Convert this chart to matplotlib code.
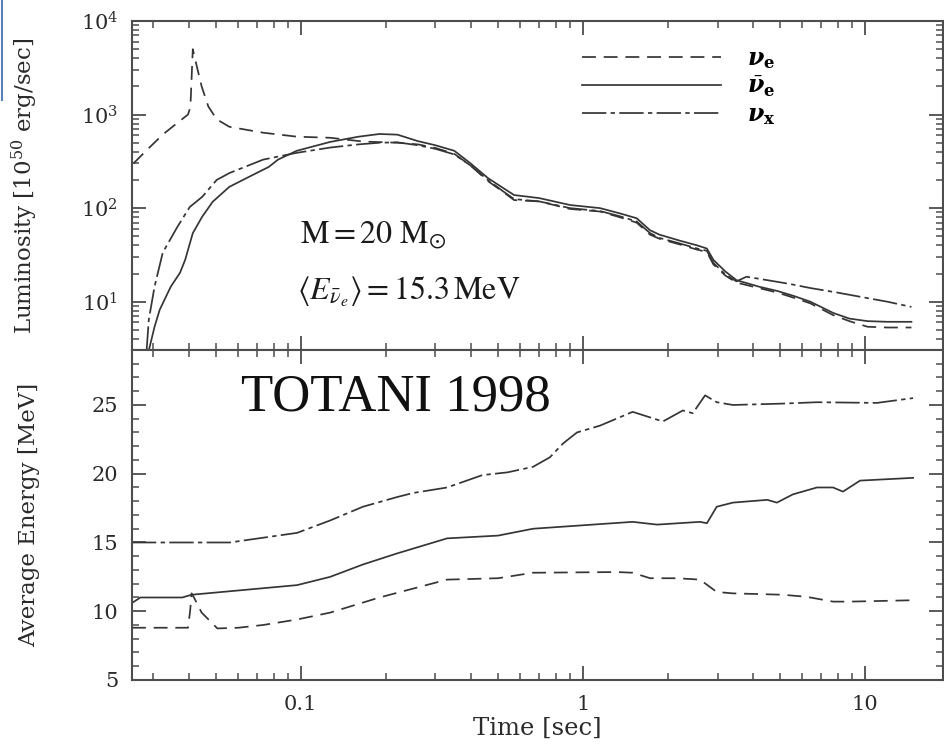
import matplotlib
matplotlib.use("Agg")
import matplotlib.pyplot as plt
from matplotlib.lines import Line2D
from matplotlib.ticker import FixedLocator, LogLocator, MultipleLocator, NullFormatter

plt.rcParams['font.family'] = 'DejaVu Serif'
plt.rcParams['mathtext.fontset'] = 'dejavuserif'

# ---------------- luminosity (10^50 erg/s) ----------------
t_lum_nue = [0.0255, 0.0285, 0.0324, 0.0365, 0.0398, 0.0406, 0.0414, 0.0428, 0.0445, 0.047,
             0.0503, 0.0558, 0.0735, 0.097, 0.127, 0.166, 0.22, 0.26, 0.30, 0.35, 0.40, 0.46,
             0.52, 0.57, 0.70, 0.90, 1.15, 1.35, 1.55, 1.73, 1.87, 2.2, 2.54, 2.75, 2.9, 3.2,
             3.5, 4.2, 4.9, 5.6, 6.4, 7.7, 8.8, 10.2, 12.0, 14.6]
lum_nue = [300, 420, 611, 815, 1000, 1200, 5000, 3260, 2000, 1220,
           890, 740, 640, 580, 565, 515, 500, 480, 440, 380, 285, 195,
           150, 122, 118, 98, 92, 80, 70, 52, 47, 41, 36, 34, 25, 19,
           16, 14, 12.5, 11, 9.6, 7.2, 6.2, 5.4, 5.3, 5.3]

t_lum_nuebar = [0.0289, 0.0303, 0.0316, 0.0346, 0.0373, 0.0389, 0.0414, 0.0447, 0.0487, 0.0558,
                0.0655, 0.077, 0.083, 0.0967, 0.127, 0.16, 0.19, 0.22, 0.26, 0.30, 0.35,
                0.40, 0.46, 0.52, 0.57, 0.70, 0.90, 1.15, 1.35, 1.55, 1.73, 1.87, 2.2, 2.54,
                2.75, 2.9, 3.2, 3.5, 4.2, 4.9, 5.6, 6.4, 7.7, 8.8, 10.2, 12.0, 14.6]
lum_nuebar = [3.0, 5.4, 8.2, 14.5, 20.4, 28, 54, 81, 117, 169,
              216, 276, 330, 410, 510, 580, 620, 610, 520, 470, 410,
              300, 210, 165, 138, 128, 108, 100, 88, 78, 58, 52, 45, 40,
              37, 28, 21, 17, 14.5, 13, 11.5, 10, 7.6, 6.6, 6.2, 6.1, 6.1]

t_lum_nux = [0.0284, 0.0289, 0.0303, 0.0324, 0.0365, 0.0404, 0.0447, 0.0503, 0.0558, 0.0735,
             0.0967, 0.127, 0.16, 0.19, 0.22, 0.26, 0.30, 0.35, 0.40, 0.46, 0.52, 0.57,
             0.70, 0.90, 1.15, 1.35, 1.55, 1.73, 1.87, 2.2, 2.54, 2.75, 2.9, 3.2, 3.5, 3.8,
             4.5, 5.4, 6.4, 8.0, 9.6, 12.0, 14.6]
lum_nux = [3.0, 6.4, 14.5, 33.5, 63, 103, 132, 200, 237, 330,
           390, 444, 480, 500, 505, 470, 430, 375, 285, 200, 152, 125,
           118, 100, 93, 82, 72, 54, 48, 42, 37, 35, 26, 19.5, 16.5, 18.5,
           17, 15.5, 14, 12.5, 11.3, 10, 8.8]

# ---------------- average energy (MeV) ----------------
t_en_nue = [0.0252, 0.0398, 0.0405, 0.041, 0.0418, 0.0445, 0.0506, 0.06, 0.0735, 0.097,
            0.127, 0.19, 0.33, 0.5, 0.665, 1.32, 1.5, 1.73, 2.15, 2.6, 2.98, 3.4, 5.1,
            6.2, 7.7, 8.84, 14.8]
en_nue = [8.8, 8.8, 10.0, 11.3, 11.0, 9.9, 8.75, 8.8, 9.0, 9.4,
          9.9, 11.0, 12.3, 12.4, 12.8, 12.85, 12.8, 12.4, 12.4, 12.3, 11.4, 11.3, 11.2,
          11.05, 10.7, 10.7, 10.8]

t_en_nuebar = [0.0252, 0.027, 0.038, 0.041, 0.097, 0.127, 0.166, 0.219, 0.33, 0.5,
               0.665, 1.5, 1.83, 2.6, 2.75, 2.98, 3.4, 4.5, 4.87, 5.55, 6.75, 7.7, 8.35,
               9.6, 14.8]
en_nuebar = [10.6, 11.0, 11.0, 11.2, 11.9, 12.5, 13.4, 14.2, 15.3, 15.5,
             16.0, 16.5, 16.3, 16.5, 16.4, 17.6, 17.9, 18.1, 17.9, 18.5, 19.0, 19.0, 18.7,
             19.5, 19.7]

t_en_nux = [0.0252, 0.056, 0.097, 0.127, 0.166, 0.219, 0.25, 0.33, 0.44, 0.54,
            0.665, 0.764, 0.85, 0.952, 1.15, 1.5, 1.92, 2.26, 2.45, 2.71, 2.98, 3.4, 5.1,
            6.75, 11.0, 14.8]
en_nux = [15.0, 15.0, 15.7, 16.6, 17.6, 18.3, 18.6, 19.0, 19.9, 20.1,
          20.5, 21.2, 22.2, 23.0, 23.5, 24.5, 23.8, 24.6, 24.4, 25.7, 25.2, 25.0, 25.1,
          25.2, 25.15, 25.5]

x_ticks = [0.1, 1, 10]
x_ticklabels = ['0.1', '1', '10']
lum_ticks = [10, 100, 1000, 10000]
lum_ticklabels = ['$10^1$', '$10^2$', '$10^3$', '$10^4$']
en_ticks = [5, 10, 15, 20, 25]

LINE = '#353535'
FRAME = '#4d4d4d'
TEXT = '#2a2a2a'
LW = 1.25
DASH = (0, (8, 4.5))
DASHDOT = (0, (14, 2.5, 2.5, 2.5))

fig = plt.figure(figsize=(9.44, 7.47), dpi=100)
ax_l = fig.add_axes([0.1398, 0.5315, 0.8592, 0.4404])
ax_e = fig.add_axes([0.1398, 0.0897, 0.8592, 0.4418], sharex=ax_l)

ax_l.plot(t_lum_nue, lum_nue, color=LINE, lw=LW, ls=DASH,
          label=r'$\boldsymbol{\nu}_{\mathbf{e}}$')
ax_l.plot(t_lum_nuebar, lum_nuebar, color=LINE, lw=LW, ls='-',
          label=r'$\bar{\boldsymbol{\nu}}_{\mathbf{e}}$')
ax_l.plot(t_lum_nux, lum_nux, color=LINE, lw=LW, ls=DASHDOT,
          label=r'$\boldsymbol{\nu}_{\mathbf{x}}$')

ax_e.plot(t_en_nue, en_nue, color=LINE, lw=LW, ls=DASH)
ax_e.plot(t_en_nuebar, en_nuebar, color=LINE, lw=LW, ls='-')
ax_e.plot(t_en_nux, en_nux, color=LINE, lw=LW, ls=DASHDOT)

ax_l.set_xscale('log')
ax_l.set_yscale('log')
ax_l.set_xlim(0.0252, 18.9)
ax_l.set_ylim(3.05, 10000)
ax_e.set_ylim(5, 29)

for ax in (ax_l, ax_e):
    for s in ax.spines.values():
        s.set_color(FRAME)
        s.set_linewidth(1.5)
    ax.tick_params(which='both', direction='in', top=True, right=True,
                   color=FRAME, labelcolor=TEXT, labelsize=15)
    ax.tick_params(which='major', length=10, width=1.3)
    ax.tick_params(which='minor', length=5, width=1.1)
    ax.tick_params(axis='y', pad=10)
    ax.tick_params(axis='x', pad=11)

ax_e.xaxis.set_major_locator(FixedLocator(x_ticks))
ax_e.set_xticklabels(x_ticklabels)
ax_e.xaxis.set_minor_locator(LogLocator(base=10, subs=range(2, 10)))
ax_e.xaxis.set_minor_formatter(NullFormatter())
ax_l.tick_params(axis='x', labelbottom=False)

ax_l.set_yticks(lum_ticks)
ax_l.set_yticklabels(lum_ticklabels)
ax_l.yaxis.set_minor_locator(LogLocator(base=10, subs=range(2, 10)))
ax_l.yaxis.set_minor_formatter(NullFormatter())

ax_e.set_yticks(en_ticks)
ax_e.yaxis.set_minor_locator(MultipleLocator(1))

ax_l.set_ylabel('Luminosity [10$^{50}$ erg/sec]', fontsize=16.5, color=TEXT)
ax_e.set_ylabel('Average Energy [MeV]', fontsize=16.5, color=TEXT)
ax_l.yaxis.set_label_coords(-0.113, 0.5)
ax_e.yaxis.set_label_coords(-0.113, 0.5)
ax_e.set_xlabel('Time [sec]', fontsize=17.5, color=TEXT, labelpad=2)

ax_l.legend(loc='upper left', bbox_to_anchor=(582 / 944, 1 - 47 / 747),
            bbox_transform=fig.transFigure, frameon=False, fontsize=17,
            handlelength=5.9, handletextpad=1.1, labelspacing=0.15,
            borderpad=0, borderaxespad=0)

ax_l.text(0.207, 0.325, r'$\mathrm{M} = 20\ \mathrm{M}_{\odot}$', transform=ax_l.transAxes,
          fontsize=23, math_fontfamily='stix', va='baseline', ha='left', color='#1a1a1a')
ax_l.text(0.203, 0.152, r'$\left\langle E_{\bar{\nu}_e} \right\rangle = 15.3\,\mathrm{MeV}$',
          transform=ax_l.transAxes, fontsize=23, math_fontfamily='stix',
          va='baseline', ha='left', color='#1a1a1a')
ax_e.text(0.135, 0.818, 'TOTANI 1998', transform=ax_e.transAxes, fontsize=38,
          family='Liberation Serif', va='baseline', ha='left', color='#111111')

# edge of the slide frame at the top left
fig.add_artist(Line2D([0.002, 0.002], [1.0, 1 - 100 / 747], transform=fig.transFigure,
                      color='#5a80b8', lw=1.5))

fig.savefig('out.png', dpi=100)
